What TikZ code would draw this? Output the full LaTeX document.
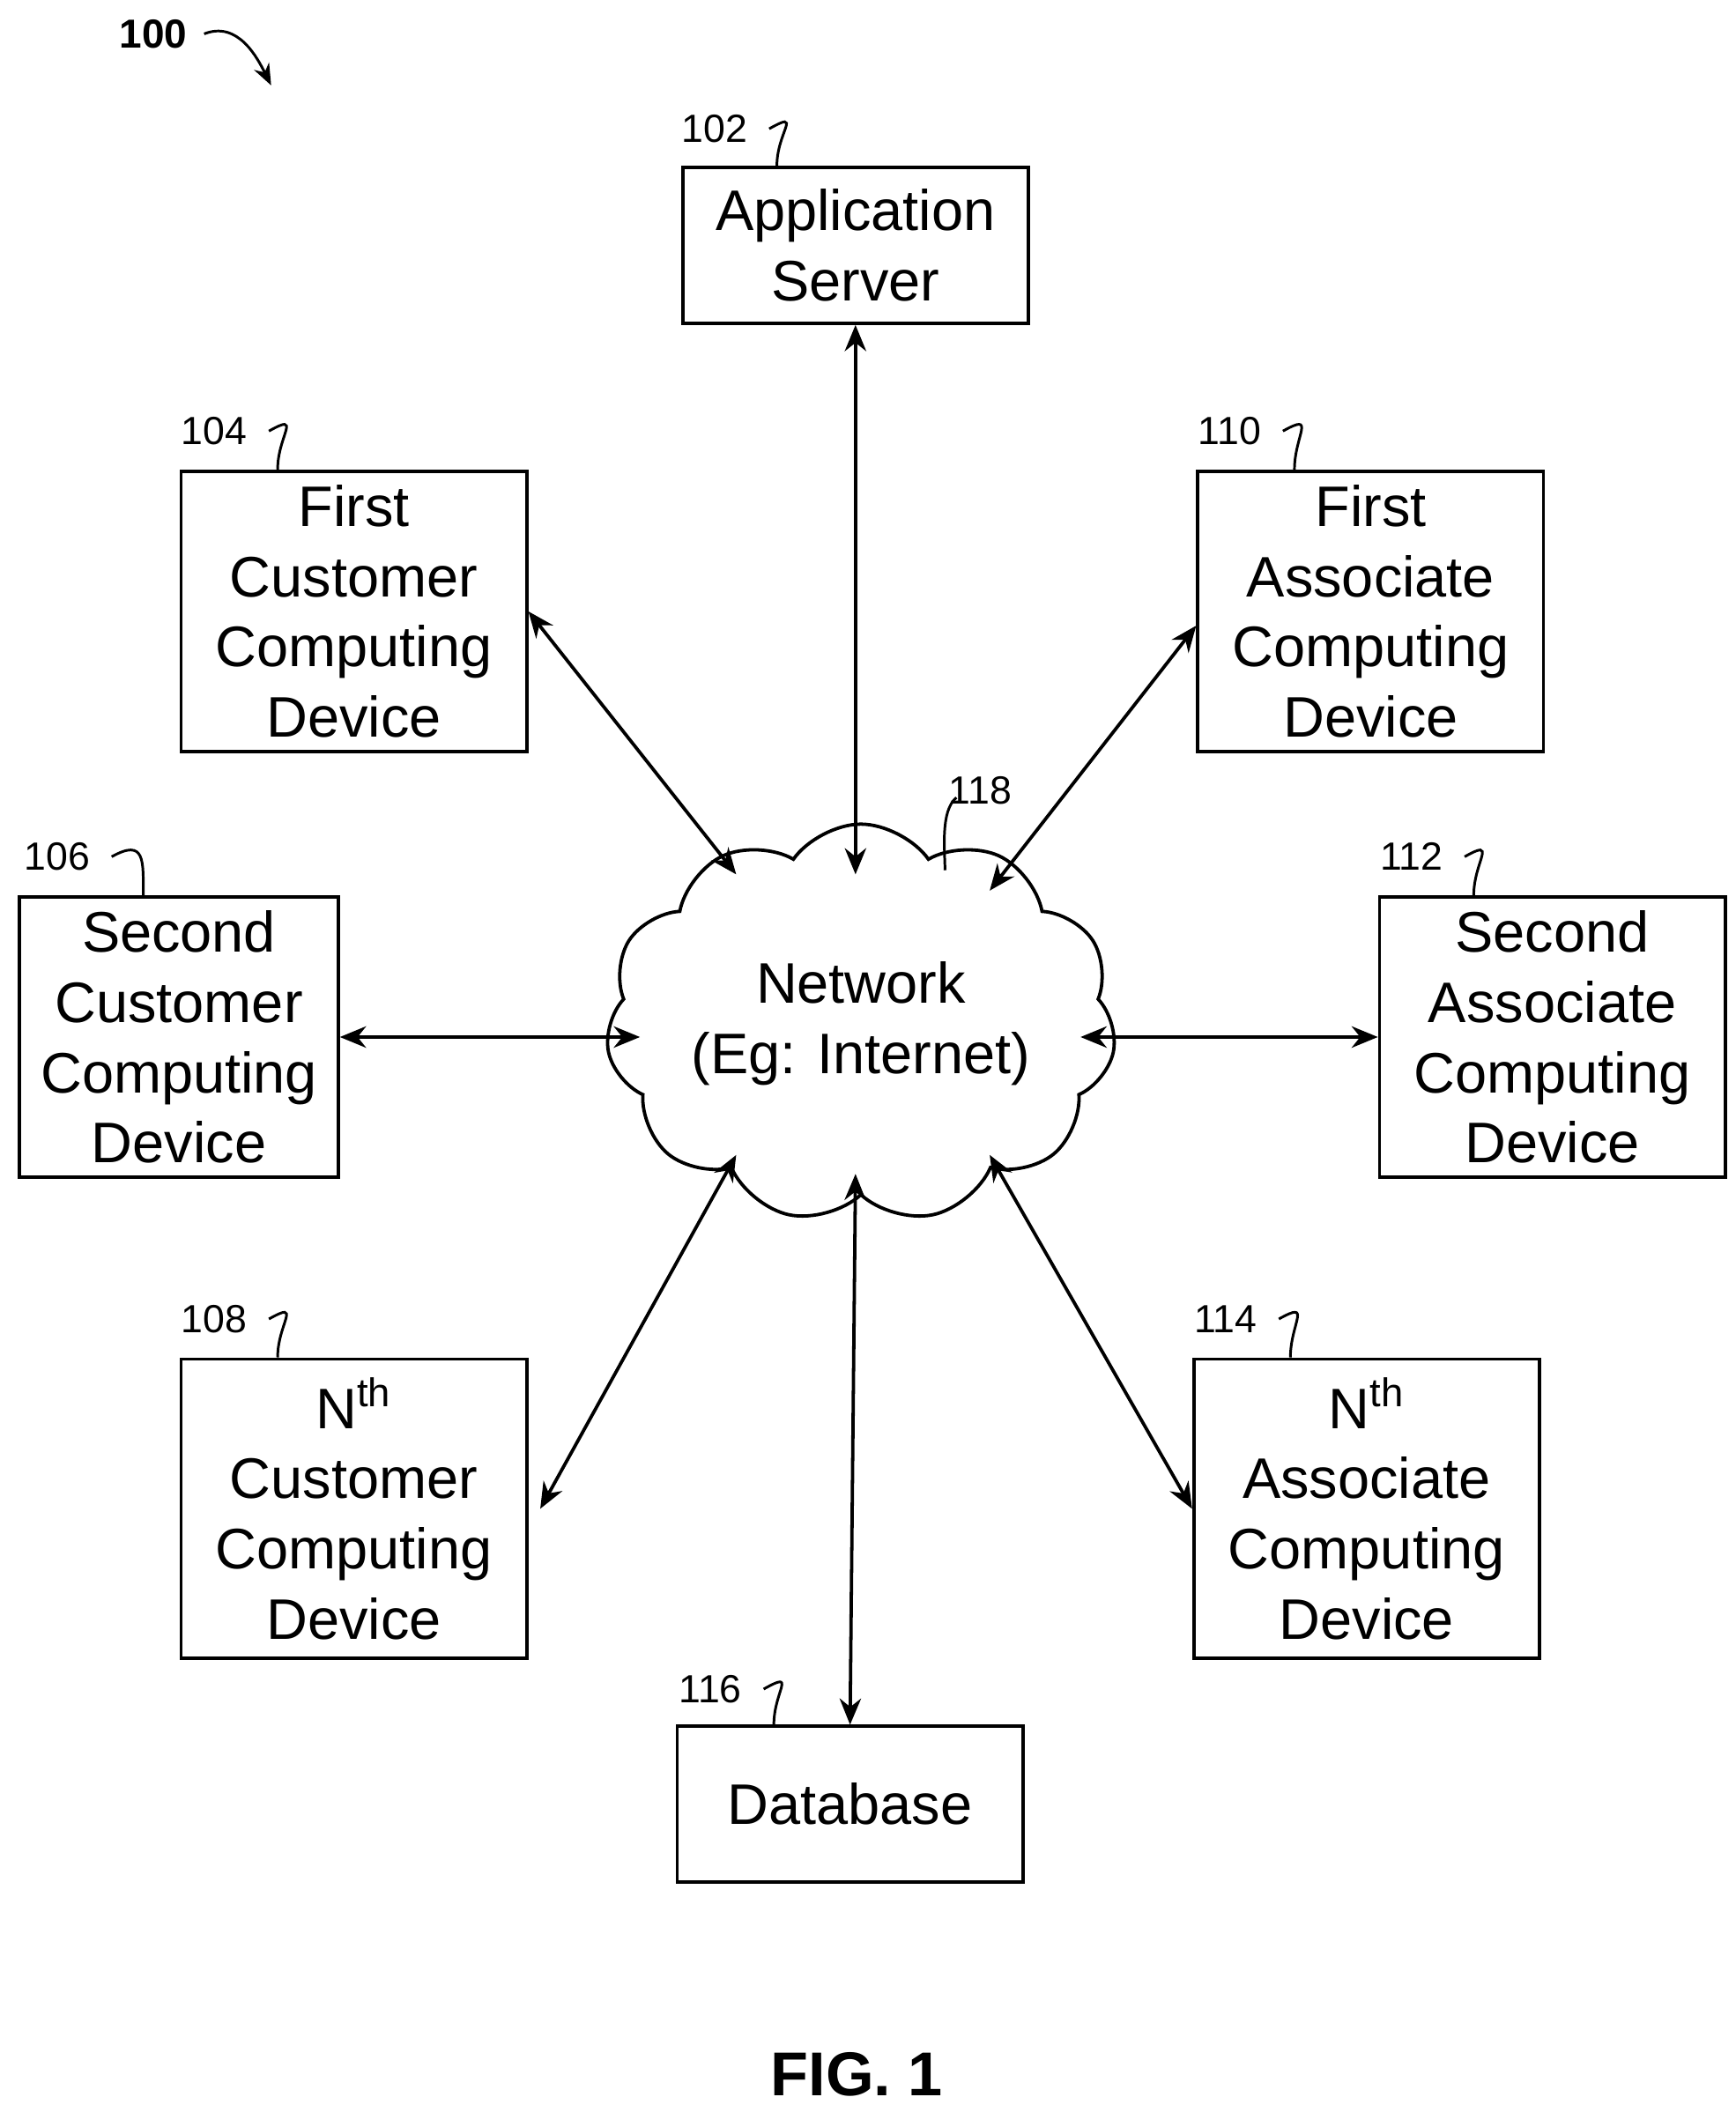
\documentclass[tikz,border=0pt]{standalone}
\usepackage{fontspec}
\setmainfont{Liberation Sans}
\usetikzlibrary{shapes.symbols,arrows.meta}
\tikzset{
  box/.style={draw, line width=1.4pt, align=center, inner sep=0pt,
    font=\fontsize{24}{29.5}\selectfont},
  num/.style={font=\fontsize{16.5}{20}\selectfont, inner sep=1pt},
  link/.style={{Stealth[length=11pt,width=9pt]}-{Stealth[length=11pt,width=9pt]}, line width=1.4pt},
  hook/.style={line width=1.1pt},
}
\begin{document}
\begin{tikzpicture}[x=0.02cm,y=-0.02cm]
    \useasboundingbox (0,0) rectangle (1280,1558);
    % boxes
    \node [box, minimum width=5.1cm, minimum height=2.3cm] (app) at (631,181) {Application\\Server};
    \node [box, minimum width=5.1cm, minimum height=4.14cm] (cust1) at (261,451) {First\\Customer\\Computing\\Device};
    \node [box, minimum width=4.7cm, minimum height=4.14cm] (cust2) at (132,765) {Second\\Customer\\Computing\\Device};
    \node [box, minimum width=5.1cm, minimum height=4.42cm] (custn) at (261,1113) {N\textsuperscript{th}\\Customer\\Computing\\Device};
    \node [box, minimum width=5.1cm, minimum height=4.14cm] (assoc1) at (1011,451) {First\\Associate\\Computing\\Device};
    \node [box, minimum width=5.1cm, minimum height=4.14cm] (assoc2) at (1145,765) {Second\\Associate\\Computing\\Device};
    \node [box, minimum width=5.1cm, minimum height=4.42cm] (assocn) at (1008,1113) {N\textsuperscript{th}\\Associate\\Computing\\Device};
    \node [box, minimum width=5.1cm, minimum height=2.3cm] (db) at (627,1331) {Database};
    \node [cloud, draw, line width=1.4pt, cloud puffs=11, cloud puff arc=110, aspect=1.4,
      minimum width=5.7cm, minimum height=3.9cm, align=center, inner sep=0pt,
      font=\fontsize{24}{29.5}\selectfont] (net) at (635,755) {Network\\(Eg: Internet)};
    % connectors
    \coordinate (n1) at (631,645);
    \coordinate (n2) at (543,645);
    \coordinate (n3) at (730,657);
    \coordinate (n4) at (472,765);
    \coordinate (n5) at (797,765);
    \coordinate (n6) at (543,852);
    \coordinate (n7) at (730,852);
    \coordinate (n8) at (631,866);
    \draw [link] (app.south) -- (n1);
    \draw [link] (cust1.east) -- (n2);
    \draw [link] ([yshift=-6]assoc1.west) -- (n3);
    \draw [link] (cust2.east) -- (n4);
    \draw [link] (assoc2.west) -- (n5);
    \draw [link] ([xshift=5]custn.east) -- (n6);
    \draw [link] (assocn.west) -- (n7);
    \draw [link] (db.north) -- (n8);
    % reference numerals
    \node [num] (l102) at (527,95) {102};
    \node [num] (l104) at (158,318) {104};
    \node [num] (l106) at (42,632) {106};
    \node [num] (l108) at (158,973) {108};
    \node [num] (l110) at (907,318) {110};
    \node [num] (l112) at (1041,632) {112};
    \node [num] (l114) at (904,973) {114};
    \node [num] (l116) at (524,1246) {116};
    \node [num] (l118) at (723,583) {118};
    \draw [hook] ([xshift=8]l102.east) .. controls +(25,-14) and +(0,-25) .. ([xshift=-33]app.north);
    \draw [hook] ([xshift=8]l104.east) .. controls +(25,-14) and +(0,-25) .. ([xshift=-32]cust1.north);
    \draw [hook] ([xshift=8]l106.east) .. controls +(25,-14) and +(0,-25) .. ([xshift=-15]cust2.north);
    \draw [hook] ([xshift=8]l108.east) .. controls +(25,-14) and +(0,-25) .. ([xshift=-32]custn.north);
    \draw [hook] ([xshift=8]l110.east) .. controls +(25,-14) and +(0,-25) .. ([xshift=-32]assoc1.north);
    \draw [hook] ([xshift=8]l112.east) .. controls +(25,-14) and +(0,-25) .. ([xshift=-33]assoc2.north);
    \draw [hook] ([xshift=8]l114.east) .. controls +(25,-14) and +(0,-25) .. ([xshift=-32]assocn.north);
    \draw [hook] ([xshift=8]l116.east) .. controls +(25,-14) and +(0,-25) .. ([xshift=-32]db.north);
    \coordinate (c118) at (697,642);
    \draw [hook] ([xshift=-10,yshift=4]l118.south) .. controls +(-12,10) and +(0,-15) .. (c118);
    % figure labels
    \node [num, font=\bfseries\fontsize{17}{20}\selectfont] (l100) at (113,25) {100};
    \draw [hook, -{Stealth[length=9pt,width=7pt]}] ([xshift=6]l100.east) .. controls +(25,-10) and +(-10,-20) .. (200,63);
    \node [font=\bfseries\fontsize{26}{30}\selectfont] (fig) at (632,1530) {FIG. 1};
\end{tikzpicture}
\end{document}
